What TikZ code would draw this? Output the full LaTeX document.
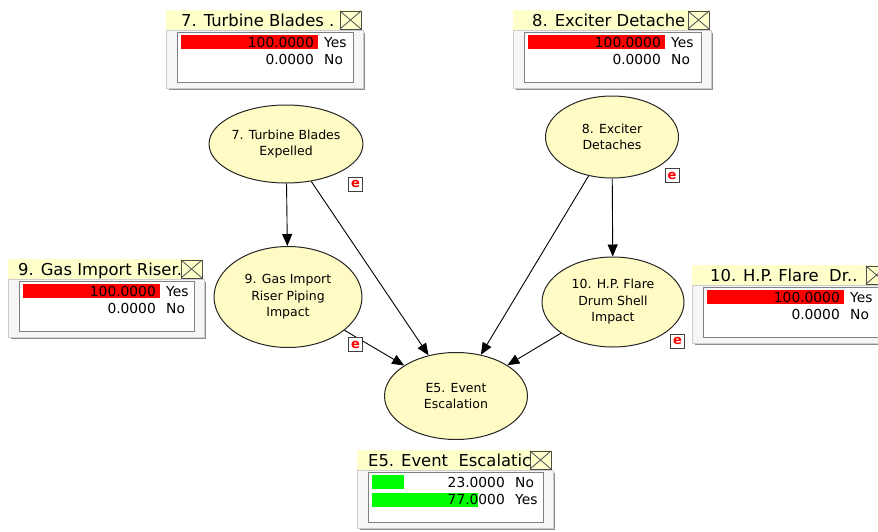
\documentclass[tikz,border=0pt]{standalone}
\usepackage{fontspec}
\setmainfont{DejaVu Sans}
\usetikzlibrary{shapes.geometric,arrows.meta}
\definecolor{titlebg}{RGB}{255,255,204}
\definecolor{nodebg}{RGB}{255,251,196}
\definecolor{monbody}{RGB}{246,246,246}
\definecolor{monshadow}{RGB}{140,140,140}
\definecolor{monframe}{RGB}{205,205,205}
\definecolor{barred}{RGB}{255,0,0}
\definecolor{bargreen}{RGB}{0,255,0}
\tikzset{
  bn/.style={ellipse, draw=black!85, line width=1pt, fill=nodebg, inner sep=0pt,
    align=center, font=\fontsize{12.5}{16.5}\selectfont},
  link/.style={line width=0.9pt, -{Triangle[length=12pt,width=10pt]}},
  ebox/.style={draw=black!75, fill=white, line width=0.9pt, minimum size=14pt,
    inner sep=0pt, text=red, font=\fontsize{13}{13}\selectfont\bfseries},
  montitle/.style={anchor=base west, inner sep=0pt, font=\fontsize{16.4}{16.4}\selectfont},
  monval/.style={anchor=base east, inner sep=0pt, font=\fontsize{13.8}{13.8}\selectfont},
  monlab/.style={anchor=base west, inner sep=0pt, font=\fontsize{13.8}{13.8}\selectfont},
}
% #1 name, #2 left, #3 top, #4 right, #5 title offset, #6 title
\newcommand\monbox[6]{%
  \fill[monshadow] (#2+3,#3+23) rectangle (#4+3,#3+80);
  \filldraw[fill=monbody, draw=monframe, line width=1pt] (#2,#3+20) rectangle (#4+1,#3+78);
  \filldraw[fill=white, draw=gray, line width=1pt] (#2+11,#3+22) rectangle (#4-9,#3+72);
  \fill[titlebg] (#2,#3) rectangle (#4,#3+20);
  \begin{scope}
    \clip (#2,#3) rectangle (#4-22,#3+20);
    \node[montitle] (#1) at (#2+#5,#3+16) {#6};
  \end{scope}
  \filldraw[fill=titlebg, draw=black!70, line width=1pt] (#4-22,#3+1) rectangle (#4-1,#3+19);
  \draw[black!70, line width=0.8pt] (#4-22,#3+1) -- (#4-1,#3+19) (#4-22,#3+19) -- (#4-1,#3+1);
}
% #1 left, #2 row centre y, #3 length, #4 colour
\newcommand\monbar[4]{\fill[#4] (#1+15,#2-7) rectangle (#1+15+#3,#2+7);}
% #1 name, #2 left, #3 row centre y, #4 value, #5 label
\newcommand\monrow[5]{%
  \node[monval] (#1v) at (#2+148,#3+5) {#4};
  \node[monlab] (#1l) at (#2+158,#3+5) {#5};
}
\begin{document}
\begin{tikzpicture}[x=1pt,y=-1pt]
\useasboundingbox (0,0) rectangle (878,531);
\clip (0,0) rectangle (878,531);

% ---------- network nodes ----------
\node[bn, minimum width=152pt, minimum height=78pt] (e7) at (286,144) {7. Turbine Blades\\Expelled};
\node[bn, minimum width=133pt, minimum height=82pt] (e8) at (612,137) {8. Exciter\\Detaches};
\node[bn, minimum width=148pt, minimum height=101pt] (e9) at (288,297) {9. Gas Import\\Riser Piping\\Impact};
\node[bn, minimum width=142pt, minimum height=90pt] (e10) at (613,302) {10. H.P. Flare\\Drum Shell\\Impact};
\node[bn, minimum width=143pt, minimum height=87pt] (e5) at (456,396) {E5. Event\\Escalation};

% ---------- links ----------
\draw[link] (e7) -- (e9);
\draw[link] (e7) -- (e5);
\draw[link] (e8) -- (e10);
\draw[link] (e8) -- (e5);
\draw[link] (e9) -- (e5);
\draw[link] (e10) -- (e5);

% ---------- evidence markers ----------
\node[ebox] (ev7) at (355.5,184) {e};
\node[ebox] (ev8) at (672,175.5) {e};
\node[ebox] (ev9) at (355.5,344.5) {e};
\node[ebox] (ev10) at (677.5,341) {e};

% ---------- monitors ----------
\monbox{m7}{166}{10}{362}{15}{7. Turbine Blades .}
\monbar{166}{42}{137}{barred}
\monrow{m7a}{166}{42}{100.0000}{Yes}
\monrow{m7b}{166}{59.5}{0.0000}{No}

\monbox{m8}{513}{10}{710}{19}{8. Exciter Detache}
\monbar{513}{42}{137}{barred}
\monrow{m8a}{513}{42}{100.0000}{Yes}
\monrow{m8b}{513}{59.5}{0.0000}{No}

\monbox{m9}{8}{259}{203}{10}{9. Gas Import Riser.}
\monbar{8}{291}{137}{barred}
\monrow{m9a}{8}{291}{100.0000}{Yes}
\monrow{m9b}{8}{308.5}{0.0000}{No}

\monbox{m10}{692}{265}{888}{18}{10. H.P. Flare\ \ Dr..}
\monbar{692}{297}{137}{barred}
\monrow{m10a}{692}{297}{100.0000}{Yes}
\monrow{m10b}{692}{314.5}{0.0000}{No}

\monbox{m5}{357}{450}{552}{11}{E5. Event\ \ Escalatic}
\monbar{357}{482}{31.5}{bargreen}
\monbar{357}{499.5}{105.5}{bargreen}
\monrow{m5a}{357}{482}{23.0000}{No}
\monrow{m5b}{357}{499.5}{77.0000}{Yes}
\end{tikzpicture}
\end{document}
